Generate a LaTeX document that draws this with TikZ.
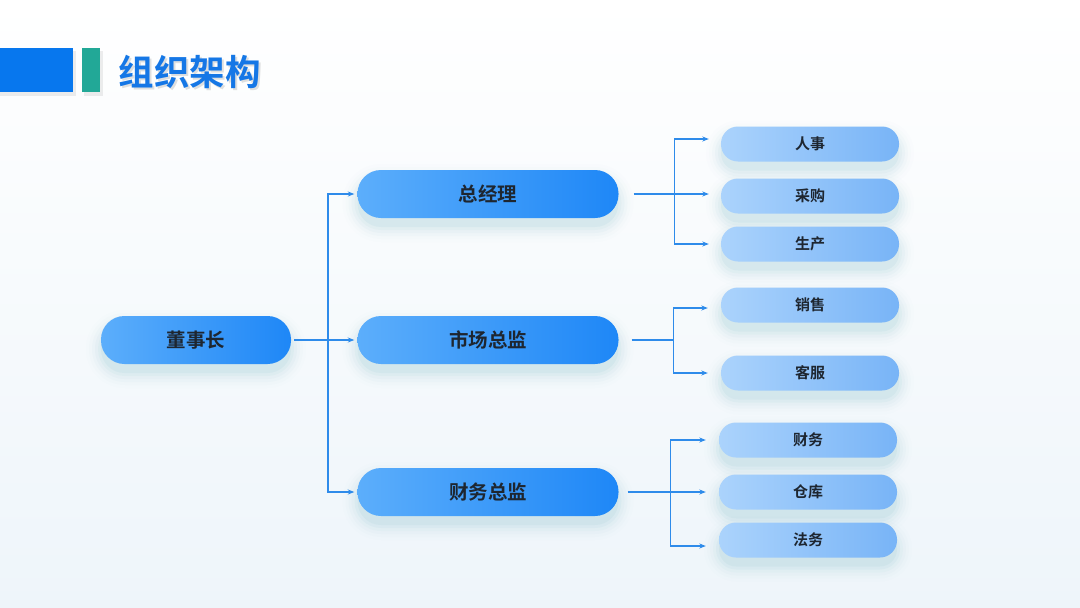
\documentclass[tikz,border=0pt]{standalone}
\usepackage{fontspec}
\newfontfamily\cjk{Noto Sans CJK SC}[BoldFont={Noto Sans CJK SC Bold}]
\usetikzlibrary{arrows.meta,calc}
\definecolor{bgb}{HTML}{EEF5FA}
\definecolor{hblue}{HTML}{0777EE}
\definecolor{hteal}{HTML}{22A897}
\definecolor{tblue}{HTML}{1577E6}
\definecolor{mainL}{HTML}{5CAEFB}
\definecolor{mainR}{HTML}{1E87F7}
\definecolor{subL}{HTML}{ABD3FC}
\definecolor{subR}{HTML}{78B4F7}
\definecolor{txt}{HTML}{1E2630}
\definecolor{lnc}{HTML}{2E8BEA}
\definecolor{shc}{HTML}{7FBCC8}
\newcommand\softsh[4]{%
  \foreach \d/\o in {0/0.09,3/0.07,6/0.05,9/0.035,12/0.025,15/0.015}{%
    \fill[shc, opacity=\o, rounded corners={0.49*#4+\d}]
      ({#1-#3/2-\d},{#2-#4/2-\d+9}) rectangle ({#1+#3/2+\d},{#2+#4/2+\d+9});
  }%
}
\tikzset{
  mainbox/.style={rounded corners=23.5pt, minimum width=261pt, minimum height=48pt,
    left color=mainL, right color=mainR, text=txt, inner sep=0pt,
    font=\cjk\bfseries\fontsize{19.5}{23}\selectfont},
  subbox/.style={rounded corners=17pt, minimum width=178pt, minimum height=35pt,
    left color=subL, right color=subR, text=txt, inner sep=0pt,
    font=\cjk\bfseries\fontsize{15}{18}\selectfont},
  ln/.style={draw=lnc, line width=1.5pt},
  arr/.style={ln, -{Stealth[length=6.5pt,width=5pt]}}
}
\begin{document}
\begin{tikzpicture}[x=1pt,y=-1pt]
\useasboundingbox (0,0) rectangle (1080,608);
\shade[top color=white, bottom color=bgb] (0,0) rectangle (1080,608);
% header
\fill[black, opacity=0.07] (0,51) rectangle (76,96);
\fill[black, opacity=0.07] (84,51) rectangle (103,96);
\fill[hblue] (0,48) rectangle (73,92);
\fill[hteal] (82,48) rectangle (100,92);
\node[anchor=west, text=black, opacity=0.12, font=\cjk\bfseries\fontsize{35.5}{40}\selectfont] at (117,74) {组织架构};
\node[anchor=west, text=tblue, font=\cjk\bfseries\fontsize{35.5}{40}\selectfont] (title) at (115,72) {组织架构};
% shadows
\softsh{196}{340}{190}{48}
\softsh{488}{194}{261}{48}
\softsh{488}{340}{261}{48}
\softsh{488}{492}{261}{48}
\softsh{810}{144}{178}{35}
\softsh{810}{196}{178}{35}
\softsh{810}{244}{178}{35}
\softsh{810}{305}{178}{35}
\softsh{810}{373}{178}{35}
\softsh{808}{440}{178}{35}
\softsh{808}{492}{178}{35}
\softsh{808}{540}{178}{35}
% nodes
\node[mainbox, minimum width=190pt] (dsz) at (196,340) {董事长};
\node[mainbox] (zjl) at (488,194) {总经理};
\node[mainbox] (scz) at (488,340) {市场总监};
\node[mainbox] (cwz) at (488,492) {财务总监};
\node[subbox] (rs) at (810,144) {人事};
\node[subbox] (cg) at (810,196) {采购};
\node[subbox] (sc) at (810,244) {生产};
\node[subbox] (xs) at (810,305) {销售};
\node[subbox] (kf) at (810,373) {客服};
\node[subbox] (cw) at (808,440) {财务};
\node[subbox] (ck) at (808,492) {仓库};
\node[subbox] (fw) at (808,540) {法务};
% level 1 connectors
\coordinate (b1) at ($(dsz.east)+(37,0)$);
\draw[arr] ([xshift=3pt]dsz.east) -- ([xshift=-3pt]scz.west);
\draw[arr] (b1) |- ([xshift=-3pt]zjl.west);
\draw[arr] (b1) |- ([xshift=-3pt]cwz.west);
% group zjl
\coordinate (b2) at ($(zjl.east)+(56,0)$);
\draw[arr] ([xshift=15pt]zjl.east) -- ([xshift=-12pt]zjl.east -| cg.west);
\draw[arr] (b2) |- ([xshift=-12pt,yshift=5pt]rs.west);
\draw[arr] (b2) |- ([xshift=-12pt]sc.west);
% group scz
\coordinate (b3) at ($(scz.east)+(55,0)$);
\draw[ln] ([xshift=13pt]scz.east) -- (b3);
\draw[arr] (b3) |- ([xshift=-13pt,yshift=-3pt]xs.west);
\draw[arr] (b3) |- ([xshift=-13pt]kf.west);
% group cwz
\coordinate (b4) at ($(cwz.east)+(52,0)$);
\draw[arr] ([xshift=9pt]cwz.east) -- ([xshift=-13pt]cwz.east -| ck.west);
\draw[arr] (b4) |- ([xshift=-13pt]cw.west);
\draw[arr] (b4) |- ([xshift=-13pt,yshift=-6pt]fw.west);
\end{tikzpicture}
\end{document}
